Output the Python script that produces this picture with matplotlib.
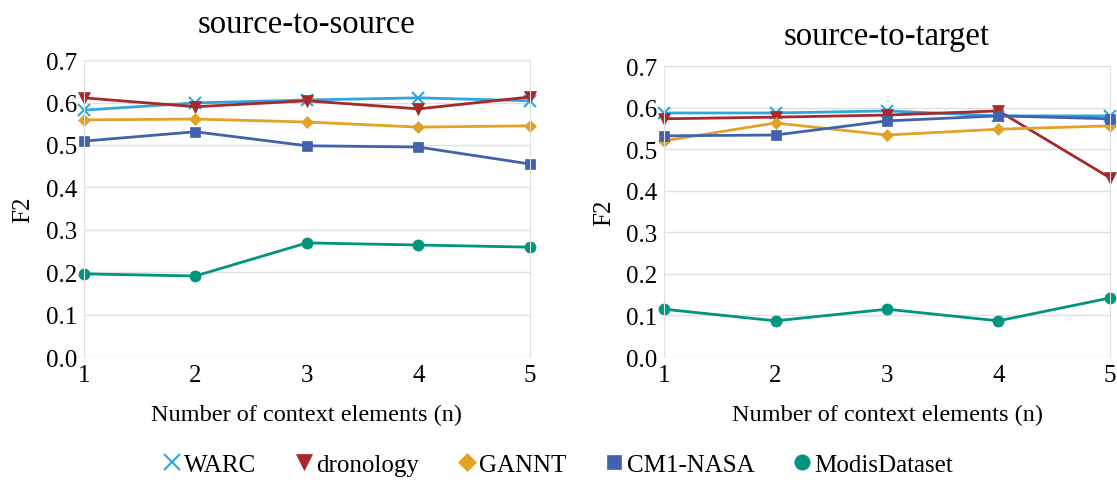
import matplotlib.pyplot as plt
from matplotlib.lines import Line2D

plt.rcParams['font.family'] = ['Liberation Serif', 'DejaVu Serif']
plt.rcParams['font.serif'] = ['Liberation Serif', 'DejaVu Serif']

n = [1, 2, 3, 4, 5]
names = ['WARC', 'dronology', 'GANNT', 'CM1-NASA', 'ModisDataset']
colors = ['#2ea6df', '#a8282b', '#e3a126', '#4262ad', '#00957e']
markers = ['x', 'v', 'D', 's', 'o']
msizes = [8, 8, 6, 7, 8]
yticks = [0.0, 0.1, 0.2, 0.3, 0.4, 0.5, 0.6, 0.7]

# source-to-source
s2s = {
    'WARC': [0.582, 0.599, 0.606, 0.611, 0.604],
    'dronology': [0.611, 0.590, 0.604, 0.585, 0.613],
    'GANNT': [0.559, 0.561, 0.554, 0.542, 0.545],
    'CM1-NASA': [0.509, 0.531, 0.498, 0.495, 0.455],
    'ModisDataset': [0.196, 0.191, 0.269, 0.264, 0.259],
}
# source-to-target
s2t = {
    'WARC': [0.587, 0.587, 0.592, 0.580, 0.580],
    'dronology': [0.573, 0.577, 0.582, 0.592, 0.431],
    'GANNT': [0.520, 0.563, 0.534, 0.548, 0.556],
    'CM1-NASA': [0.532, 0.534, 0.568, 0.580, 0.573],
    'ModisDataset': [0.115, 0.087, 0.115, 0.087, 0.142],
}

fig = plt.figure(figsize=(11.17, 4.81), dpi=100)
ax1 = fig.add_axes([0.075, 0.2557, 0.3995, 0.6173])
ax2 = fig.add_axes([0.5945, 0.2557, 0.3992, 0.6050])

for ax, data, title, tpad in [(ax1, s2s, 'source-to-source', 20),
                              (ax2, s2t, 'source-to-target', 16)]:
    for name, c, m, ms in zip(names, colors, markers, msizes):
        ax.plot(n, data[name], color=c, marker=m, markersize=ms, lw=2,
                markeredgewidth=1.5 if m == 'x' else 0.5, label=name, clip_on=False)
    ax.set_xlim(1, 5)
    ax.set_ylim(0, 0.7)
    ax.set_xticks(n)
    ax.set_xticklabels([str(i) for i in n], family='Liberation Serif')
    ax.set_yticks(yticks)
    ax.set_yticklabels(['%.1f' % v for v in yticks], family='Liberation Serif')
    ax.grid(axis='y', color='#e0e0e0', lw=1)
    ax.set_axisbelow(True)
    for s in ['top', 'bottom']:
        ax.spines[s].set_visible(False)
    for s in ['left', 'right']:
        ax.spines[s].set_color('#e0e0e0')
    ax.tick_params(length=0, labelsize=18, pad=5)
    ax.set_xlabel('Number of context elements (n)', fontsize=17.5, labelpad=13)
    ax.set_ylabel('F2', fontsize=18, labelpad=8)
    ax.set_title(title, fontsize=23.5, pad=tpad)

handles = [Line2D([], [], color=c, marker=m, ls='none', markersize=ms + 3,
                  markeredgewidth=1.5 if m == 'x' else 0.5)
           for c, m, ms in zip(colors, markers, msizes)]
fig.legend(handles, names, loc='lower center', bbox_to_anchor=(0.5, -0.038), ncol=5,
           frameon=False, fontsize=18, handlelength=0.6, handletextpad=0.2,
           columnspacing=1.6)

fig.savefig('out.png', dpi=100)
